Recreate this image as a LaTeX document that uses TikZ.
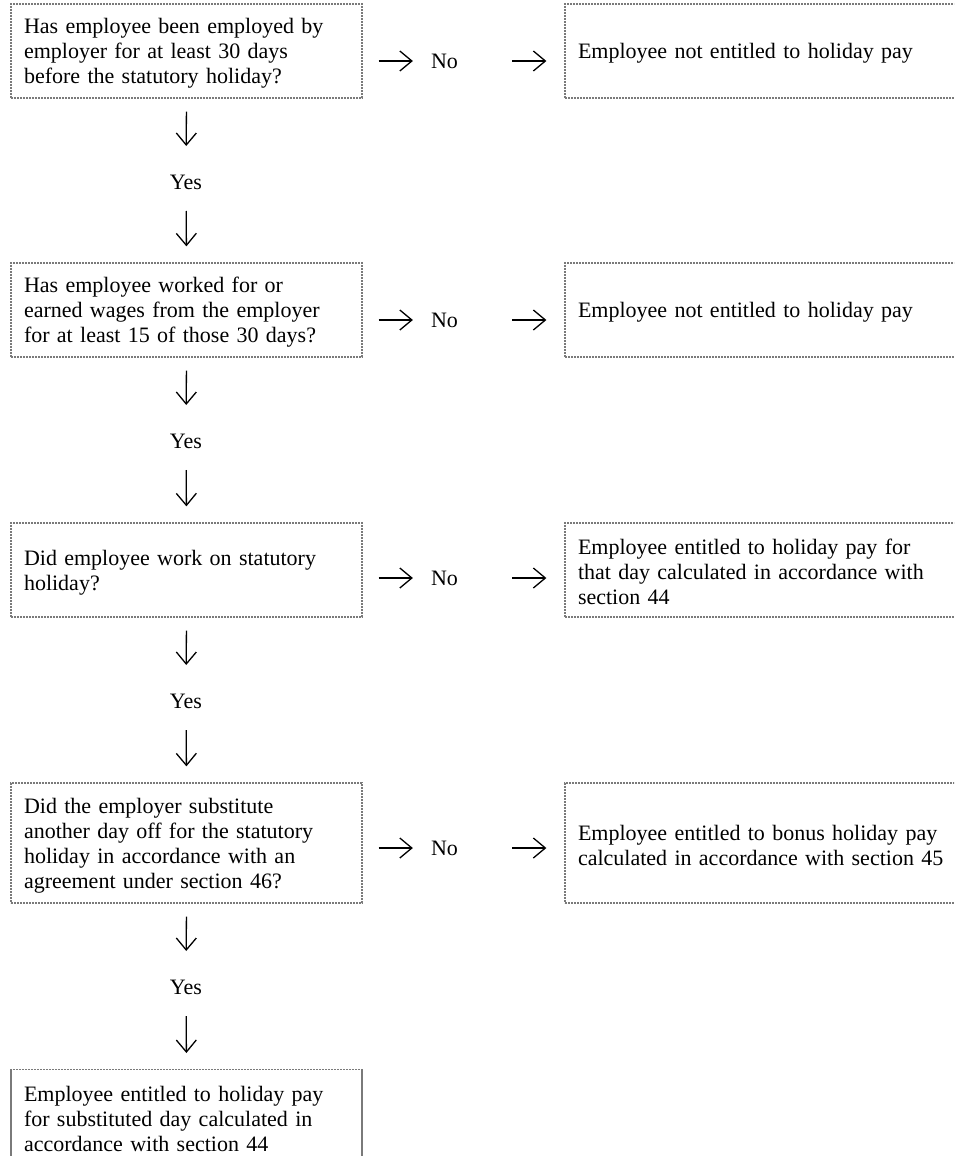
\documentclass[tikz,border=0pt]{standalone}
\usepackage{fontspec}
\setmainfont{Liberation Serif}
\usetikzlibrary{arrows.meta}
\definecolor{boxgray}{HTML}{7A7A7A}
\newcommand{\firstline}{\rule{0pt}{20pt}}
\begin{document}
\begin{tikzpicture}[x=1pt,y=-1pt,
  every node/.style={font=\fontsize{22}{25}\selectfont},
  boxline/.style={draw=boxgray, line width=1.3pt, dash pattern=on 2.4pt off 0.6pt, rectangle,
    inner xsep=13pt, inner ysep=0pt, align=left},
  qbox/.style={boxline, minimum width=351pt, text width=325pt},
  rbox/.style={boxline, minimum width=420pt, text width=394pt},
  lbl/.style={inner sep=0pt},
  arr/.style={line width=1.3pt, -{Straight Barb[length=12pt,width=20pt,line width=1.3pt]}}
]
\useasboundingbox (0,0) rectangle (954,1156);
\clip (0,0) rectangle (954,1156);

% left question boxes
\node[qbox, minimum height=94pt] (b1) at (186.5,51) {\firstline Has employee been employed by\\employer for at least 30 days\\before the statutory holiday?};
\node[qbox, minimum height=94pt] (b2) at (186.5,310) {\firstline Has employee worked for or\\earned wages from the employer\\for at least 15 of those 30 days?};
\node[qbox, minimum height=94pt] (b3) at (186.5,570) {\firstline Did employee work on statutory\\holiday?};
\node[qbox, minimum height=120pt] (b4) at (186.5,843) {\firstline Did the employer substitute\\another day off for the statutory\\holiday in accordance with an\\agreement under section 46?};
\node[qbox, inner ysep=12pt, anchor=north] (b5) at (186.5,1069) {\firstline Employee entitled to holiday pay\\for substituted day calculated in\\accordance with section 44};

% right result boxes
\node[rbox, minimum height=94pt] (r1) at (775,51) {\firstline Employee not entitled to holiday pay};
\node[rbox, minimum height=94pt] (r2) at (775,310) {\firstline Employee not entitled to holiday pay};
\node[rbox, minimum height=94pt] (r3) at (775,570) {\firstline Employee entitled to holiday pay for\\that day calculated in accordance with\\section 44};
\node[rbox, minimum height=120pt] (r4) at (775,843) {\firstline Employee entitled to bonus holiday pay\\calculated in accordance with section 45};

% No labels
\node[lbl] (n1) at (444.5,61) {No};
\node[lbl] (n2) at (444.5,320) {No};
\node[lbl] (n3) at (444.5,578) {No};
\node[lbl] (n4) at (444.5,848) {No};

% Yes labels
\node[lbl] (y1) at (186,182) {Yes};
\node[lbl] (y2) at (186,441) {Yes};
\node[lbl] (y3) at (186,701) {Yes};
\node[lbl] (y4) at (186,987) {Yes};

% horizontal arrows
\foreach \b/\n/\r in {b1/n1/r1, b2/n2/r2, b3/n3/r3, b4/n4/r4}{
  \draw[arr, shorten <=16pt, shorten >=18pt] (\b.east |- \n) -- (\n.west);
  \draw[arr, shorten <=54pt, shorten >=18pt] (\n.east) -- (\r.west |- \n);
}

% vertical arrows
\foreach \b/\y/\c in {b1/y1/b2, b2/y2/b3, b3/y3/b4, b4/y4/b5}{
  \draw[arr, shorten <=13pt, shorten >=36pt] (\b.south) -- (\y.center);
  \draw[arr, shorten <=29pt, shorten >=16pt] (\y.center) -- (\c.north);
}
\end{tikzpicture}
\end{document}
